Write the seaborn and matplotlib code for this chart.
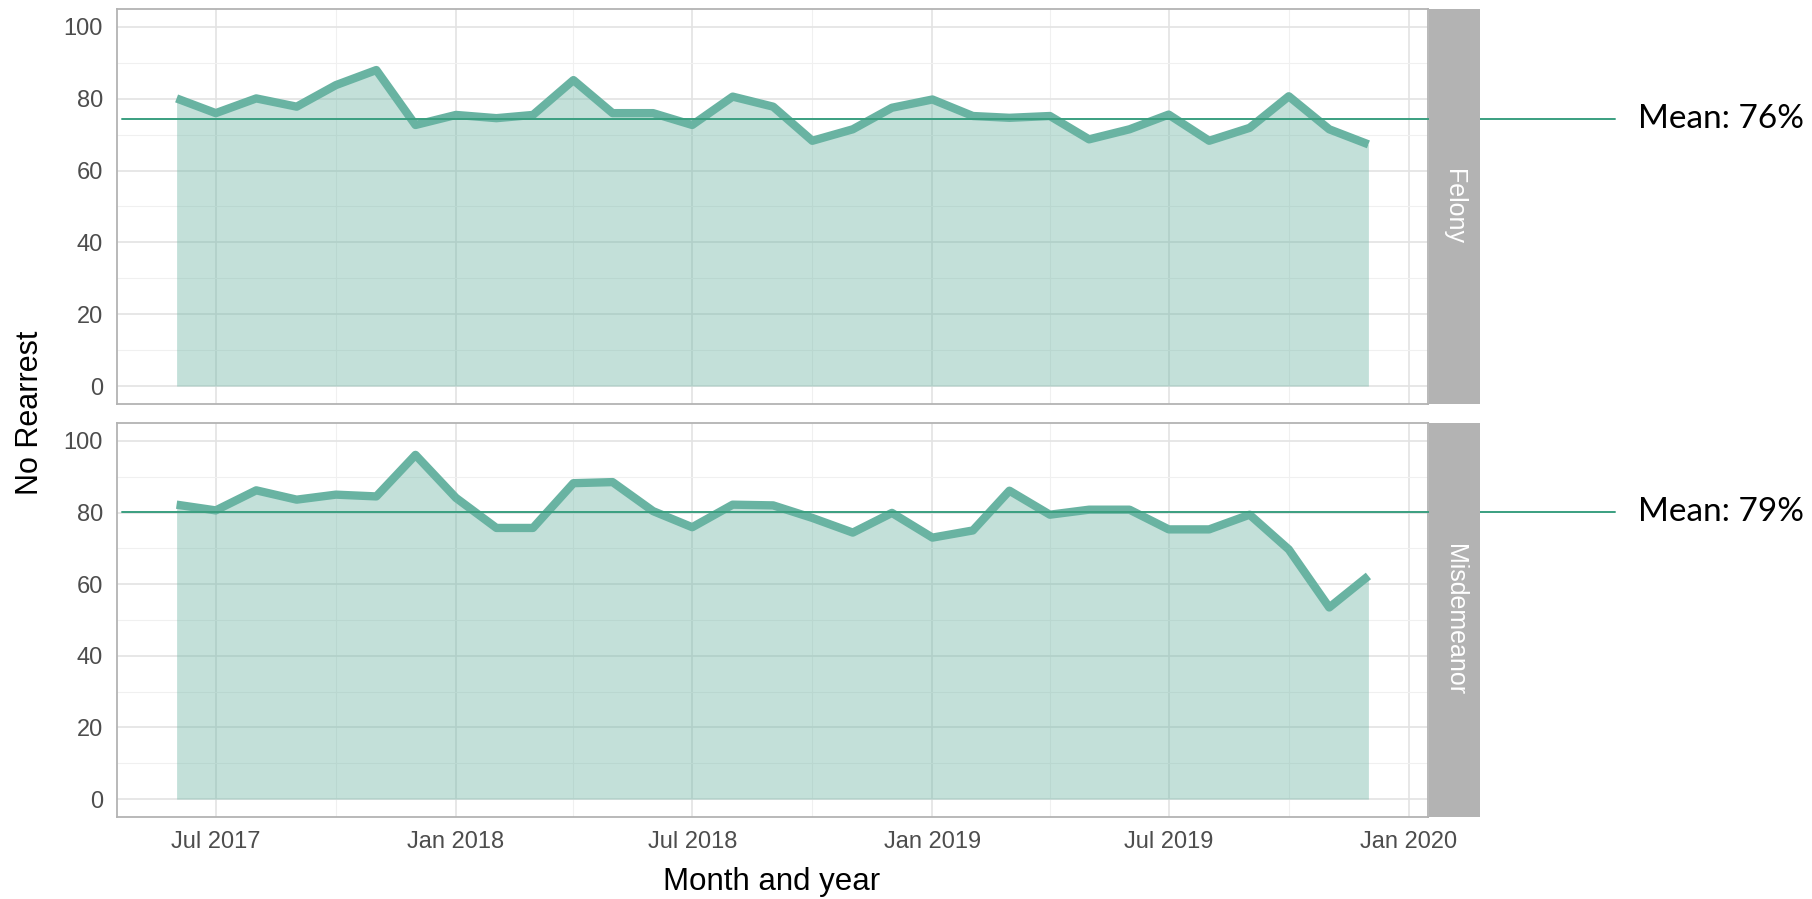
import numpy as np
import pandas as pd
import seaborn as sns
import matplotlib.pyplot as plt
import matplotlib.dates as mdates
from matplotlib.transforms import blended_transform_factory

# monthly share with no rearrest (%), Jun 2017 - Dec 2019
months = pd.date_range('2017-06-01', '2019-12-01', freq='MS')
felony = [80.1, 76.0, 80.1, 77.8, 83.8, 88.0, 72.7, 75.5, 74.6, 75.5, 85.2, 76.0,
          76.0, 72.7, 80.6, 77.8, 68.3, 71.5, 77.5, 79.8, 75.2, 74.7, 75.2, 68.7,
          71.5, 75.6, 68.3, 71.9, 80.7, 71.5, 67.3]
misdemeanor = [82.2, 80.6, 86.2, 83.6, 85.0, 84.5, 96.1, 84.1, 75.7, 75.7, 88.2, 88.5,
               80.4, 75.9, 82.2, 82.0, 78.5, 74.4, 79.9, 73.0, 75.0, 86.1, 79.4, 80.8,
               80.8, 75.3, 75.3, 79.4, 69.7, 53.5, 62.3]
facets = ['Felony', 'Misdemeanor']
mean_level = [74.3, 80.2]          # where the mean lines are drawn
mean_labels = ['Mean: 76%', 'Mean: 79%']

df = pd.DataFrame({
    'month': list(months) * 2,
    'rate': felony + misdemeanor,
    'type': ['Felony'] * len(months) + ['Misdemeanor'] * len(months),
})

sns.set_style('white')
plt.rcParams['font.family'] = ['Liberation Sans', 'DejaVu Sans']

W, H = 1812, 899
fig = plt.figure(figsize=(W / 100, H / 100), dpi=100)

line_col = '#69b3a2'
mean_col = '#3a9f80'
grid_col = '#e3e3e3'
border_col = '#b3b3b3'

span = months[-1] - months[0]
xlim = (months[0] - span * 0.05, months[-1] + span * 0.05)

panels = [(9, 404), (423, 817)]  # top/bottom in px
left, right = 117, 1428
strip_l, strip_r = 1429, 1480

for i, (name, (top, bot)) in enumerate(zip(facets, panels)):
    ax = fig.add_axes([left / W, 1 - bot / H, (right - left) / W, (bot - top) / H])
    sub = df[df['type'] == name]
    ax.fill_between(sub['month'], 0, sub['rate'], color=line_col, alpha=0.4,
                    linewidth=0, zorder=2)
    sns.lineplot(data=sub, x='month', y='rate', ax=ax, color=line_col, lw=6,
                 solid_capstyle='butt', solid_joinstyle='round', zorder=3)
    ax.set_xlim(xlim)
    ax.set_ylim(-5, 105)
    ax.set_yticks(np.arange(0, 101, 20))
    ax.set_yticks(np.arange(10, 100, 20), minor=True)
    ax.xaxis.set_major_locator(mdates.MonthLocator(bymonth=[1, 7]))
    ax.xaxis.set_minor_locator(mdates.MonthLocator(bymonth=[4, 10]))
    ax.xaxis.set_major_formatter(mdates.DateFormatter('%b %Y'))
    ax.grid(True, which='major', color=grid_col, lw=1.2, zorder=0)
    ax.grid(True, which='minor', color='#f0f0f0', lw=0.8, zorder=0)
    ax.set_axisbelow(True)
    for s in ax.spines.values():
        s.set_color(border_col)
        s.set_linewidth(1.3)
    ax.tick_params(which='major', length=5, width=1, color=border_col,
                   labelsize=17, labelcolor='#4d4d4d', pad=5)
    ax.tick_params(which='minor', length=0)
    ax.set_xlabel('')
    ax.set_ylabel('')
    if i == 0:
        ax.tick_params(axis='x', which='both', length=0, labelbottom=False)

    # facet strip
    sax = fig.add_axes([strip_l / W, 1 - bot / H, (strip_r - strip_l) / W, (bot - top) / H])
    sax.set_facecolor(border_col)
    sax.set_xticks([])
    sax.set_yticks([])
    for s in sax.spines.values():
        s.set_visible(False)
    sax.text(0.5, 0.5, name, rotation=-90, ha='center', va='center',
             color='white', fontsize=18, transform=sax.transAxes)

    # mean line running out to the annotation
    tr = blended_transform_factory(fig.transFigure, ax.transData)
    ax.plot([122 / W, 1615 / W], [mean_level[i]] * 2, color=mean_col, lw=1.4,
            transform=tr, clip_on=False, zorder=5)
    ax.text(1638 / W, mean_level[i], mean_labels[i], transform=tr, ha='left',
            va='center', fontsize=24, color='black', family=['Lato', 'DejaVu Sans'])

fig.text(30 / W, 1 - 413 / H, 'No Rearrest', rotation=90, ha='center', va='center',
         fontsize=22, color='black')
fig.text(772 / W, 1 - 882 / H, 'Month and year', ha='center', va='center',
         fontsize=22.5, color='black')

fig.savefig('out.png', dpi=100)
